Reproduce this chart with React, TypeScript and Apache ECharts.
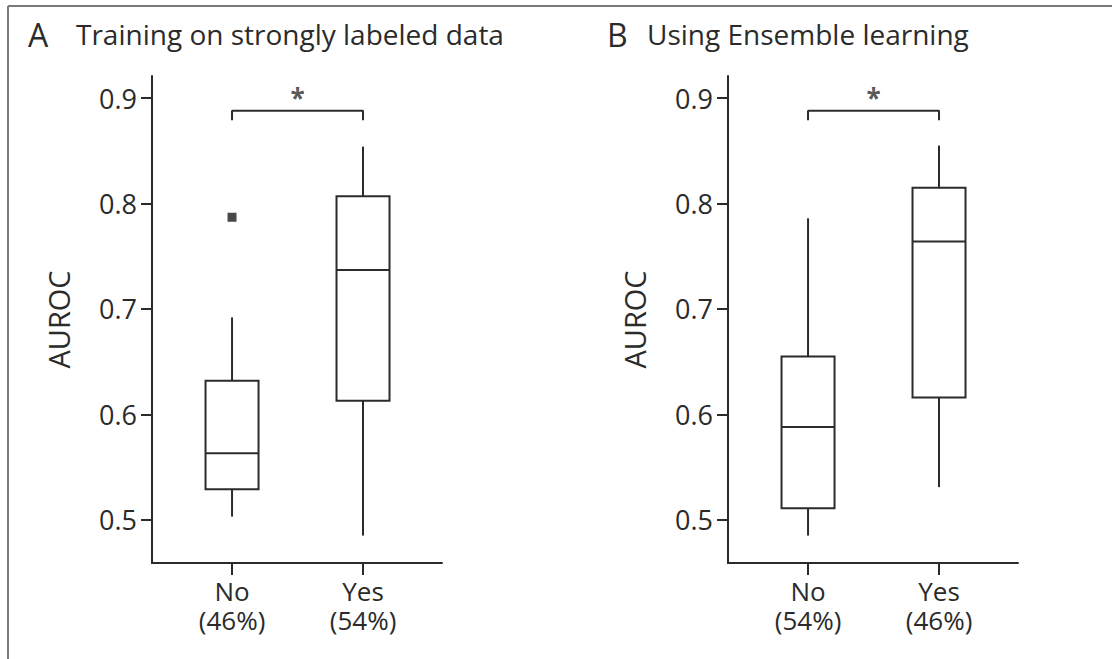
import React, { useEffect, useRef } from 'react';
import * as echarts from 'echarts';

const categories = ['No', 'Yes'];
const sharesA = ['(46%)', '(54%)'];
const sharesB = ['(54%)', '(46%)'];
// [min, Q1, median, Q3, max]
const boxesA = [
  [0.503, 0.529, 0.563, 0.632, 0.692],
  [0.485, 0.613, 0.737, 0.807, 0.854],
];
const boxesB = [
  [0.485, 0.511, 0.588, 0.655, 0.786],
  [0.531, 0.616, 0.764, 0.815, 0.855],
];
const outliersA = [[0, 0.787]];
const outliersB: number[][] = [];
const yTicks = [0.5, 0.6, 0.7, 0.8, 0.9];
const bracket = [[0, 0.879], [0, 0.888], [1, 0.888], [1, 0.879]];
const starPos = [[0.5, 0.9]];
const panelLetters = ['A', 'B'];
const panelTitles = ['Training on strongly labeled data', 'Using Ensemble learning'];

const INK = '#2b2b2b';
const FONT = '"Open Sans", "Noto Sans", sans-serif';

export default function App() {
  const ref = useRef<HTMLDivElement>(null);
  useEffect(() => {
    if (!ref.current) return;
    const chart = echarts.init(ref.current, undefined, { renderer: 'svg' });
    const grids = [
      { left: 152, top: 76, width: 290, height: 487 },
      { left: 728, top: 76, width: 290, height: 487 },
    ];
    const shares = [sharesA, sharesB];
    const boxes = [boxesA, boxesB];
    const outliers = [outliersA, outliersB];

    const xAxes: any[] = grids.map((_, gi) => ({
      type: 'value',
      gridIndex: gi,
      position: 'bottom',
      min: -0.611,
      max: 1.603,
      axisLine: { show: true, onZero: false, lineStyle: { color: INK, width: 2 } },
      axisTick: { show: true, customValues: [0, 1], length: 12, lineStyle: { color: INK, width: 2 } },
      axisLabel: {
        customValues: [0, 1],
        formatter: (v: number) => categories[Math.round(v)],
        fontSize: 26,
        margin: 15,
        color: INK,
        fontFamily: FONT,
      },
      splitLine: { show: false },
    }));
    grids.forEach((_, gi) => {
      xAxes.push({
        type: 'value',
        gridIndex: gi,
        position: 'bottom',
        offset: 0,
        min: -0.611,
        max: 1.603,
        axisLine: { show: false, onZero: false },
        axisTick: { show: false },
        axisLabel: {
          customValues: [0, 1],
          formatter: (v: number) => shares[gi][Math.round(v)],
          fontSize: 26,
          margin: 44,
          color: INK,
          fontFamily: FONT,
        },
        splitLine: { show: false },
      });
    });
    const yAxes = grids.map((_, gi) => ({
      type: 'value',
      gridIndex: gi,
      min: 0.459,
      max: 0.921,
      name: 'AUROC',
      nameLocation: 'middle',
      nameGap: 79,
      nameTextStyle: { fontSize: 29, color: INK, fontFamily: FONT },
      axisLine: { show: true, onZero: false, lineStyle: { color: INK, width: 2 } },
      axisTick: { show: true, customValues: yTicks, length: 11, lineStyle: { color: INK, width: 2 } },
      axisLabel: {
        customValues: yTicks,
        formatter: (v: number) => v.toFixed(1),
        fontSize: 27,
        margin: 15,
        color: INK,
        fontFamily: FONT,
      },
      splitLine: { show: false },
    }));

    const series: any[] = [];
    grids.forEach((_, gi) => {
      series.push({
        type: 'custom',
        xAxisIndex: gi,
        yAxisIndex: gi,
        encode: { x: 0, y: [1, 2, 3, 4, 5] },
        data: boxes[gi].map((b, i) => [i, ...b]),
        renderItem: (params: any, api: any) => {
          const x = api.value(0);
          const pMin = api.coord([x, api.value(1)]);
          const pQ1 = api.coord([x, api.value(2)]);
          const pMed = api.coord([x, api.value(3)]);
          const pQ3 = api.coord([x, api.value(4)]);
          const pMax = api.coord([x, api.value(5)]);
          const half = 26.5;
          const st = { stroke: INK, lineWidth: 2 };
          return {
            type: 'group',
            children: [
              { type: 'line', shape: { x1: pMax[0], y1: pMax[1], x2: pQ3[0], y2: pQ3[1] }, style: st },
              { type: 'line', shape: { x1: pMin[0], y1: pMin[1], x2: pQ1[0], y2: pQ1[1] }, style: st },
              {
                type: 'rect',
                shape: { x: pQ3[0] - half, y: pQ3[1], width: half * 2, height: pQ1[1] - pQ3[1] },
                style: { fill: '#fff', stroke: INK, lineWidth: 2 },
              },
              { type: 'line', shape: { x1: pMed[0] - half, y1: pMed[1], x2: pMed[0] + half, y2: pMed[1] }, style: st },
            ],
          };
        },
      });
      series.push({
        type: 'scatter',
        xAxisIndex: gi,
        yAxisIndex: gi,
        symbol: 'rect',
        symbolSize: 9,
        itemStyle: { color: '#1a1a1a' },
        data: outliers[gi],
      });
      series.push({
        type: 'line',
        xAxisIndex: gi,
        yAxisIndex: gi,
        symbol: 'none',
        lineStyle: { color: INK, width: 2 },
        data: bracket,
      });
      series.push({
        type: 'scatter',
        xAxisIndex: gi,
        yAxisIndex: gi,
        symbolSize: 1,
        itemStyle: { color: 'rgba(0,0,0,0)' },
        label: { show: true, position: 'inside', formatter: '*', fontSize: 26, fontWeight: 'bold', color: INK, fontFamily: FONT },
        data: starPos,
      });
    });

    const letterX = [28, 607];
    const titleX = [76, 647];
    const graphic: any[] = [
      { type: 'line', shape: { x1: 8, y1: 6, x2: 1112, y2: 6 }, style: { stroke: '#7a7a7a', lineWidth: 2 } },
      { type: 'line', shape: { x1: 8, y1: 6, x2: 8, y2: 659 }, style: { stroke: '#7a7a7a', lineWidth: 2 } },
    ];
    panelLetters.forEach((l, i) => {
      graphic.push({
        type: 'text', x: letterX[i], y: 34,
        style: { text: l, fontSize: 32, fill: INK, fontFamily: FONT, verticalAlign: 'middle' },
      });
      graphic.push({
        type: 'text', x: titleX[i], y: 34,
        style: { text: panelTitles[i], fontSize: 28, fill: INK, fontFamily: FONT, verticalAlign: 'middle' },
      });
    });

    chart.setOption({
      animation: false,
      backgroundColor: '#fff',
      grid: grids,
      xAxis: xAxes,
      yAxis: yAxes,
      series,
      graphic,
    });
    return () => chart.dispose();
  }, []);
  return <div ref={ref} style={{ position: 'absolute', left: 0, top: 0, width: 1112, height: 659 }} />;
}
